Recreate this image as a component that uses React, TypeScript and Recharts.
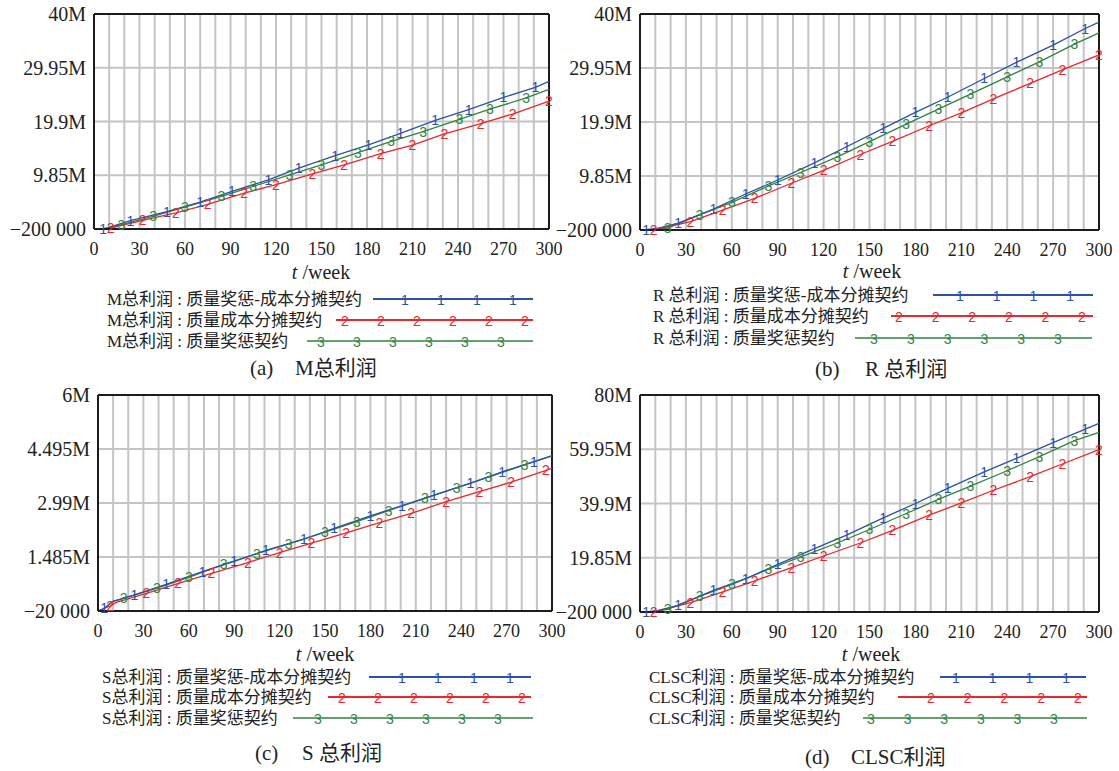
import React from "react";
import { LineChart, Line, XAxis, YAxis, CartesianGrid, ReferenceLine } from "recharts";

// weeks: grid every 10, labels every 30
const WEEK_TICKS = [0, 10, 20, 30, 40, 50, 60, 70, 80, 90, 100, 110, 120, 130, 140, 150, 160, 170, 180, 190, 200, 210, 220, 230, 240, 250, 260, 270, 280, 290, 300];

// y ticks, values in millions
const A_YTICKS = [-0.2, 9.85, 19.9, 29.95, 40];
const B_YTICKS = [-0.2, 9.85, 19.9, 29.95, 40];
const C_YTICKS = [-0.02, 1.485, 2.99, 4.495, 6];
const D_YTICKS = [-0.2, 19.85, 39.9, 59.95, 80];

const SERIES_NAMES = ["质量奖惩-成本分摊契约", "质量成本分摊契约", "质量奖惩契约"];

// (a) M总利润
const A1_T = [0, 6, 24, 48, 70, 91, 115, 135, 159, 181, 202, 225, 247, 270, 291, 300];
const A1_V = [-0.2, -0.2, 1.35, 3.04, 4.84, 6.83, 9.0, 11.2, 13.5, 15.55, 17.7, 20.1, 22.1, 24.4, 26.3, 27.4];
const A1_M = [6, 24, 48, 70, 91, 115, 135, 159, 181, 202, 225, 247, 270, 291];
const A2_T = [0, 11, 32, 54, 75, 99, 120, 144, 165, 189, 210, 231, 255, 276, 300];
const A2_V = [-0.2, -0.05, 1.4, 2.8, 4.4, 6.5, 8.1, 10.1, 11.8, 13.9, 15.5, 17.6, 19.5, 21.3, 23.7];
const A2_M = [11, 32, 54, 75, 99, 120, 144, 165, 189, 210, 231, 255, 276, 300];
const A3_T = [0, 8, 18, 39, 60, 84, 105, 129, 150, 174, 196, 217, 241, 261, 285, 300];
const A3_V = [-0.2, -0.15, 0.6, 2.16, 3.9, 5.9, 7.77, 9.94, 11.8, 14.1, 16.2, 18.0, 20.3, 22.2, 24.3, 25.9];
const A3_M = [18, 39, 60, 84, 105, 129, 150, 174, 196, 217, 241, 261, 285];

// (b) R 总利润
const B1_T = [0, 4, 12, 25, 48, 69, 90, 114, 135, 159, 180, 201, 225, 246, 270, 291, 300];
const B1_V = [-0.2, -0.15, 0.15, 1.1, 3.7, 6.5, 9.1, 12.3, 15.3, 18.7, 21.7, 24.5, 28.0, 31.0, 34.2, 37.3, 38.5];
const B1_M = [4, 25, 48, 69, 90, 114, 135, 159, 180, 201, 225, 246, 270, 291];
const B2_T = [0, 9, 33, 54, 75, 99, 120, 144, 165, 189, 210, 231, 255, 276, 300];
const B2_V = [-0.2, -0.2, 1.35, 3.5, 5.7, 8.5, 10.9, 13.85, 16.3, 19.2, 21.6, 24.2, 27.1, 29.6, 32.4];
const B2_M = [9, 33, 54, 75, 99, 120, 144, 165, 189, 210, 231, 255, 276, 300];
const B3_T = [0, 10, 18, 39, 60, 84, 105, 129, 150, 174, 195, 216, 240, 261, 284, 300];
const B3_V = [-0.2, -0.1, 0.15, 2.6, 4.95, 8.0, 10.5, 13.4, 16.25, 19.5, 22.3, 25.1, 28.3, 31.1, 34.4, 36.5];
const B3_M = [18, 39, 60, 84, 105, 129, 150, 174, 195, 216, 240, 261, 284];

// (c) S总利润
const C1_T = [0, 4, 10, 24, 45, 69, 90, 111, 136, 156, 180, 201, 222, 246, 267, 288, 300];
const C1_V = [-0.02, 0.05, 0.25, 0.43, 0.72, 1.08, 1.36, 1.67, 1.98, 2.28, 2.63, 2.92, 3.21, 3.54, 3.86, 4.14, 4.31];
const C1_M = [4, 24, 45, 69, 90, 111, 136, 156, 180, 201, 222, 246, 267, 288];
const C2_T = [0, 8, 12, 32, 53, 75, 99, 120, 141, 164, 186, 207, 230, 252, 273, 296, 300];
const C2_V = [-0.02, 0.12, 0.22, 0.47, 0.75, 1.03, 1.33, 1.61, 1.87, 2.16, 2.44, 2.7, 3.03, 3.31, 3.57, 3.9, 3.96];
const C2_M = [8, 32, 53, 75, 99, 120, 141, 164, 186, 207, 230, 252, 273, 296];
const C3_T = [0, 4, 10, 17, 39, 60, 83, 105, 126, 150, 171, 192, 216, 237, 258, 282, 300];
const C3_V = [-0.02, 0.05, 0.25, 0.33, 0.62, 0.92, 1.28, 1.58, 1.85, 2.18, 2.47, 2.78, 3.12, 3.42, 3.71, 4.05, 4.3];
const C3_M = [17, 39, 60, 83, 105, 126, 150, 171, 192, 216, 237, 258, 282];

// (d) CLSC利润
const D1_T = [0, 4, 12, 25, 48, 69, 90, 114, 135, 159, 180, 201, 225, 246, 270, 291, 300];
const D1_V = [-0.2, -0.15, 0.4, 2.27, 7.8, 12.1, 17.4, 23.2, 28.2, 34.6, 39.9, 45.5, 51.6, 56.6, 62.4, 67.4, 69.5];
const D1_M = [4, 25, 48, 69, 90, 114, 135, 159, 180, 201, 225, 246, 270, 291];
const D2_T = [0, 9, 33, 54, 75, 99, 120, 144, 165, 189, 210, 231, 255, 276, 300];
const D2_V = [-0.2, -0.2, 3.25, 7.2, 11.3, 16.2, 20.5, 25.3, 30.0, 35.6, 40.1, 44.8, 49.8, 54.5, 59.8];
const D2_M = [9, 33, 54, 75, 99, 120, 144, 165, 189, 210, 231, 255, 276, 300];
const D3_T = [0, 10, 18, 39, 60, 84, 105, 129, 150, 174, 195, 216, 240, 261, 284, 300];
const D3_V = [-0.2, 0.0, 0.8, 5.6, 10.0, 15.6, 20.2, 25.3, 30.3, 36.2, 41.4, 46.3, 52.0, 57.2, 63.1, 66.2];
const D3_M = [18, 39, 60, 84, 105, 129, 150, 174, 195, 216, 240, 261, 284];

const SERIF = '"Liberation Serif", "Times New Roman", "Noto Sans CJK SC", serif';
const SANS = '"Liberation Sans", Arial, sans-serif';
const COLORS = ["#2b52a6", "#e8282c", "#2f8440"];
const FRAME = "#1c1c1c";

const mk = (t: number[], v: number[], m: number[]) => t.map((x, i) => ({ t: x, v: v[i], m: m.includes(x) }));

const fmtY = (v: number) => {
  if (v < 0) {
    const s = String(Math.round(-v * 1e6)).replace(/\B(?=(\d{3})+(?!\d))/g, " ");
    return "\u2212" + s;
  }
  return `${+v.toFixed(3)}M`;
};

const markDot = (color: string, label: string) => (p: any) => {
  if (!p.payload?.m) return <g key={`n-${p.index}`} />;
  return (
    <text key={`m-${p.index}`} x={p.cx} y={p.cy} fill={color} fontSize={14} fontFamily={SANS} textAnchor="middle" dominantBaseline="central">
      {label}
    </text>
  );
};

type PanelProps = {
  left: number; top: number; width: number; height: number;
  yWidth: number; mt: number; mr: number; yTicks: number[];
  series: { t: number[]; v: number[]; m: number[] }[];
};

function Panel({ left, top, width, height, yWidth, mt, mr, yTicks, series }: PanelProps) {
  const order = [2, 1, 0];
  return (
    <div style={{ position: "absolute", left, top }}>
      <LineChart width={width} height={height} margin={{ top: mt, right: mr, left: 0, bottom: 0 }}>
        <CartesianGrid stroke="#c4c4c4" strokeWidth={2} />
        <XAxis
          type="number" dataKey="t" domain={[0, 300]} ticks={WEEK_TICKS} interval={0}
          tickFormatter={(t: number) => (t % 30 === 0 ? String(t) : "")}
          tickLine={false} tickMargin={7} height={33}
          axisLine={{ stroke: FRAME, strokeWidth: 2 }}
          tick={{ fill: "#222", fontSize: 18, fontFamily: SERIF }}
        />
        <YAxis
          type="number" domain={[yTicks[0], yTicks[yTicks.length - 1]]} ticks={yTicks} interval={0}
          tickFormatter={fmtY} width={yWidth} tickLine={false}
          axisLine={{ stroke: FRAME, strokeWidth: 2 }}
          tick={{ fill: "#222", fontSize: 20, fontFamily: SERIF }}
        />
        <ReferenceLine y={yTicks[yTicks.length - 1]} stroke={FRAME} strokeWidth={2} />
        <ReferenceLine x={300} stroke={FRAME} strokeWidth={2} />
        {order.map((i) => (
          <Line
            key={i}
            data={mk(series[i].t, series[i].v, series[i].m)}
            dataKey="v" type="linear" stroke={COLORS[i]} strokeWidth={1.3}
            dot={markDot(COLORS[i], String(i + 1))} activeDot={false}
            isAnimationActive={false}
          />
        ))}
      </LineChart>
    </div>
  );
}

type LegendRow = { y: number; x1: number; x2: number; m0: number; n: number; step: number };

function Legend({ prefix, tx, rows }: { prefix: string; tx: number; rows: LegendRow[] }) {
  return (
    <g>
      {rows.map((r, i) => (
        <g key={i}>
          <text x={tx} y={r.y} fontSize={17} fontFamily={SERIF} fill="#222" dominantBaseline="central">
            {`${prefix} : ${SERIES_NAMES[i]}`}
          </text>
          <line x1={r.x1} x2={r.x2} y1={r.y} y2={r.y} stroke={COLORS[i]} strokeWidth={i === 2 ? 1.6 : 2.2} />
          {Array.from({ length: r.n }, (_, k) => (
            <text key={k} x={r.m0 + k * r.step} y={r.y + 1} fontSize={14} fontFamily={SANS} fill={COLORS[i]} textAnchor="middle" dominantBaseline="central">
              {i + 1}
            </text>
          ))}
        </g>
      ))}
    </g>
  );
}

function AxisTitle({ x, y }: { x: number; y: number }) {
  return (
    <text x={x} y={y} fontSize={20} fontFamily={SERIF} fill="#222" textAnchor="middle" dominantBaseline="central">
      <tspan fontStyle="italic">t</tspan> /week
    </text>
  );
}

function Caption({ x1, x2, y, tag, title }: { x1: number; x2: number; y: number; tag: string; title: string }) {
  return (
    <g fontSize={21} fontFamily={SERIF} fill="#222">
      <text x={x1} y={y} dominantBaseline="central">{tag}</text>
      <text x={x2} y={y} dominantBaseline="central">{title}</text>
    </g>
  );
}

export default function App() {
  return (
    <div style={{ position: "absolute", left: 0, top: 0, width: 1119, height: 771, background: "#fff", overflow: "hidden" }}>
      <Panel left={0} top={0} width={575} height={262} yWidth={94} mt={14} mr={26} yTicks={A_YTICKS}
        series={[{ t: A1_T, v: A1_V, m: A1_M }, { t: A2_T, v: A2_V, m: A2_M }, { t: A3_T, v: A3_V, m: A3_M }]} />
      <Panel left={540} top={0} width={575} height={263} yWidth={100} mt={14} mr={16} yTicks={B_YTICKS}
        series={[{ t: B1_T, v: B1_V, m: B1_M }, { t: B2_T, v: B2_V, m: B2_M }, { t: B3_T, v: B3_V, m: B3_M }]} />
      <Panel left={0} top={380} width={575} height={264} yWidth={98} mt={15} mr={23} yTicks={C_YTICKS}
        series={[{ t: C1_T, v: C1_V, m: C1_M }, { t: C2_T, v: C2_V, m: C2_M }, { t: C3_T, v: C3_V, m: C3_M }]} />
      <Panel left={540} top={380} width={575} height={265} yWidth={100} mt={15} mr={16} yTicks={D_YTICKS}
        series={[{ t: D1_T, v: D1_V, m: D1_M }, { t: D2_T, v: D2_V, m: D2_M }, { t: D3_T, v: D3_V, m: D3_M }]} />

      <svg width={1119} height={771} style={{ position: "absolute", left: 0, top: 0, pointerEvents: "none" }}>
        <AxisTitle x={321} y={272} />
        <AxisTitle x={872} y={271} />
        <AxisTitle x={325} y={654} />
        <AxisTitle x={871} y={654} />

        <Legend prefix="M总利润" tx={107} rows={[
          { y: 299, x1: 373, x2: 533, m0: 405, n: 4, step: 36 },
          { y: 320, x1: 336, x2: 533, m0: 345, n: 6, step: 36 },
          { y: 341, x1: 307, x2: 533, m0: 321, n: 6, step: 36 },
        ]} />
        <Legend prefix="R 总利润" tx={653} rows={[
          { y: 295, x1: 933, x2: 1093, m0: 960, n: 4, step: 36.7 },
          { y: 316, x1: 891, x2: 1093, m0: 899, n: 6, step: 36.6 },
          { y: 338, x1: 855, x2: 1092, m0: 874, n: 6, step: 36.8 },
        ]} />
        <Legend prefix="S总利润" tx={102} rows={[
          { y: 677, x1: 369, x2: 531, m0: 402, n: 4, step: 36 },
          { y: 697, x1: 328, x2: 531, m0: 342, n: 6, step: 36 },
          { y: 718, x1: 293, x2: 533, m0: 318, n: 6, step: 36 },
        ]} />
        <Legend prefix="CLSC利润" tx={649} rows={[
          { y: 677, x1: 940, x2: 1086, m0: 956, n: 4, step: 36.7 },
          { y: 697, x1: 898, x2: 1087, m0: 931, n: 5, step: 36.7 },
          { y: 718, x1: 863, x2: 1087, m0: 871, n: 6, step: 36.6 },
        ]} />

        <Caption x1={250} x2={295} y={368} tag="(a)" title="M总利润" />
        <Caption x1={815} x2={865} y={369} tag="(b)" title="R 总利润" />
        <Caption x1={255} x2={302} y={753} tag="(c)" title="S 总利润" />
        <Caption x1={805} x2={851} y={757} tag="(d)" title="CLSC利润" />
      </svg>
    </div>
  );
}
